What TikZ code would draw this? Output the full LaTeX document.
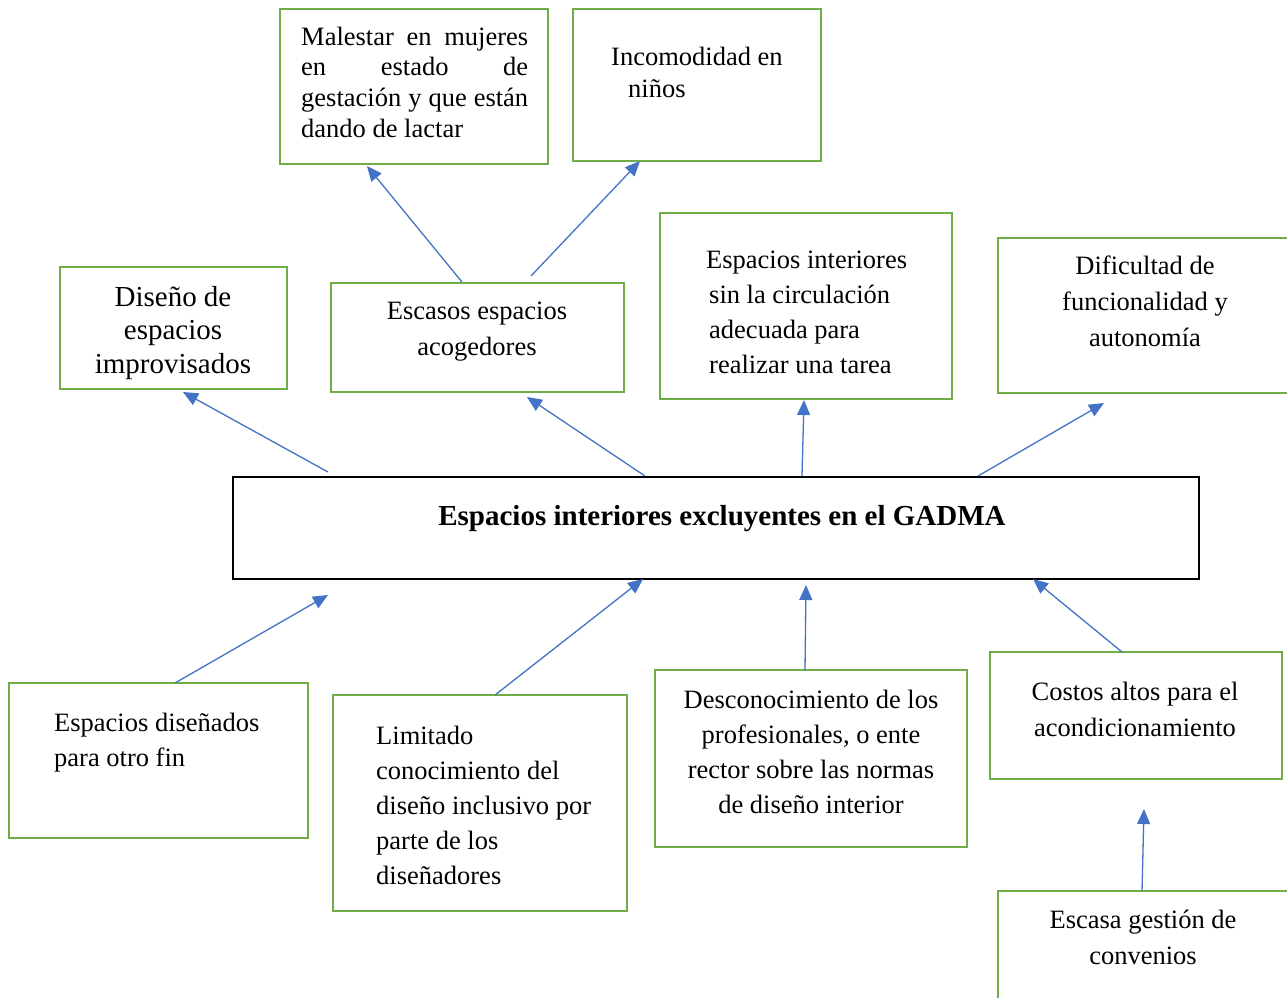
\documentclass[tikz,border=0pt]{standalone}
\usepackage{fontspec}
\setmainfont{Liberation Serif}
\usetikzlibrary{arrows.meta}
\definecolor{gr}{HTML}{70AD47}
\definecolor{bl}{HTML}{4472C4}
\tikzset{
  gbox/.style={draw=gr, line width=2.5pt, inner sep=0pt, outer sep=0pt, anchor=north west},
  mbox/.style={draw=black, line width=2pt, inner sep=0pt, outer sep=0pt, anchor=north west},
  txt/.style={inner sep=0pt, text width=#1, execute at begin node={\spaceskip=.25em\relax\xspaceskip=.25em\relax}},
  txt/.default=300pt,
  arr/.style={draw=bl, line width=1.3pt, -{Triangle[length=15pt,width=13pt]}},
}
\newcommand{\fs}[1]{\fontsize{26.5}{#1}\selectfont}
\begin{document}
\begin{tikzpicture}[x=1pt,y=-1pt]
\clip (0,0) rectangle (1287,997);
\fill[white] (0,0) rectangle (1287,997);
% boxes
\node[gbox, minimum width=268pt, minimum height=155pt] (mal) at (280,9) {};
\node[gbox, minimum width=248pt, minimum height=152pt] (inc) at (573,9) {};
\node[gbox, minimum width=227pt, minimum height=122pt] (dis) at (60,267) {};
\node[gbox, minimum width=293pt, minimum height=109pt] (esc) at (331,283) {};
\node[gbox, minimum width=292pt, minimum height=186pt] (ein) at (660,213) {};
\node[gbox, minimum width=297pt, minimum height=155pt] (dif) at (998,238) {};
\node[mbox, minimum width=966pt, minimum height=102pt] (main) at (233,477) {};
\node[gbox, minimum width=299pt, minimum height=155pt] (edo) at (9,683) {};
\node[gbox, minimum width=294pt, minimum height=216pt] (lim) at (333,695) {};
\node[gbox, minimum width=312pt, minimum height=177pt] (des) at (655,670) {};
\node[gbox, minimum width=292pt, minimum height=127pt] (cos) at (990,652) {};
\node[gbox, minimum width=297pt, minimum height=120pt] (eg) at (998,891) {};
% texts
\node[txt=228pt, align=left, anchor=base west, font=\fs{30.8}] (tmal) at (301,45)
  {\makebox[227pt]{Malestar\hfill en\hfill mujeres}\\\makebox[227pt]{en\hfill estado\hfill de}\\\makebox[227pt]{gestación\hfill y\hfill que\hfill están}\\dando de lactar};
\node[txt=220pt, align=left, anchor=base west, font=\fs{32}] (tinc) at (611,65)
  {Incomodidad en\\\hspace*{17pt}niños};
\node[txt=220pt, align=center, anchor=base, font=\fontsize{29}{33.5}\selectfont] (tdis) at (173,306)
  {Diseño de\\espacios\\improvisados};
\node[txt=280pt, align=center, anchor=base, font=\fs{36}] (tesc) at (477,319)
  {Escasos espacios\\acogedores};
\node[txt=240pt, align=left, anchor=base west, font=\fs{35.3}] (tein) at (706,268)
  {Espacios interiores\\\hspace*{3pt}sin la circulación\\\hspace*{3pt}adecuada para\\\hspace*{3pt}realizar una tarea};
\node[txt=280pt, align=center, anchor=base, font=\fs{36}] (tdif) at (1145,274)
  {Dificultad de\\funcionalidad y\\autonomía};
\node[txt=900pt, align=center, anchor=base, font=\fontsize{29}{34}\selectfont\bfseries] (tmain) at (722,525)
  {Espacios interiores excluyentes en el GADMA};
\node[txt=250pt, align=left, anchor=base west, font=\fs{35}] (tedo) at (54,731)
  {Espacios diseñados\\para otro fin};
\node[txt=240pt, align=left, anchor=base west, font=\fs{35.2}] (tlim) at (376,744)
  {Limitado\\conocimiento del\\diseño inclusivo por\\parte de los\\diseñadores};
\node[txt=300pt, align=center, anchor=base, font=\fs{35.3}] (tdes) at (811,708)
  {Desconocimiento de los\\profesionales, o ente\\rector sobre las normas\\de diseño interior};
\node[txt=280pt, align=center, anchor=base, font=\fs{36}] (tcos) at (1135,700)
  {Costos altos para el\\acondicionamiento};
\node[txt=280pt, align=center, anchor=base, font=\fs{36}] (teg) at (1143,928)
  {Escasa gestión de\\convenios};
% arrows
\draw[arr] ([xshift=95pt,yshift=5pt]main.north west) -- ([xshift=123pt,yshift=-3pt]dis.south west);
\draw[arr] ([xshift=412pt,yshift=1pt]main.north west) -- ([xshift=196pt,yshift=-5pt]esc.south west);
\draw[arr] ([xshift=569pt,yshift=1pt]main.north west) -- ([xshift=144pt,yshift=-1pt]ein.south west);
\draw[arr] ([xshift=745pt,yshift=1pt]main.north west) -- ([xshift=106pt,yshift=-10pt]dif.south west);
\draw[arr] ([xshift=131pt,yshift=1pt]esc.north west) -- ([xshift=87pt,yshift=-2pt]mal.south west);
\draw[arr] ([xshift=200pt,yshift=7pt]esc.north west) -- ([xshift=67pt]inc.south west);
\draw[arr] ([xshift=166pt]edo.north west) -- ([xshift=95pt,yshift=-16pt]main.south west);
\draw[arr] ([xshift=162pt]lim.north west) -- ([xshift=410pt]main.south west);
\draw[arr] ([xshift=150pt]des.north west) -- ([xshift=573pt,yshift=-6pt]main.south west);
\draw[arr] ([xshift=132pt]cos.north west) -- ([xshift=800pt]main.south west);
\draw[arr] ([xshift=144pt]eg.north west) -- ([xshift=154pt,yshift=-30pt]cos.south west);
\end{tikzpicture}
\end{document}
